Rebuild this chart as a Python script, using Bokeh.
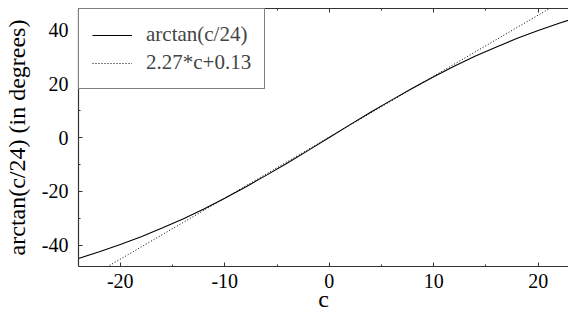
from bokeh.plotting import figure
from bokeh.models import Range1d, FixedTicker, LinearAxis, Legend, LegendItem
from bokeh.embed import file_html
from bokeh.resources import INLINE

# arctan(c/24) in degrees
c_vals = [-24, -22, -20, -18, -16, -14, -12, -10, -8, -6, -4, -2, 0,
          2, 4, 6, 8, 10, 12, 14, 16, 18, 20, 22, 24]
atan_deg = [-45.0, -42.5, -39.8, -36.9, -33.7, -30.3, -26.6, -22.6, -18.4, -14.0, -9.5, -4.8, 0.0,
            4.8, 9.5, 14.0, 18.4, 22.6, 26.6, 30.3, 33.7, 36.9, 39.8, 42.5, 45.0]
# linear fit 2.27*c+0.13 at its end points
fit_c = [-24, 24]
fit_v = [-54.35, 54.61]

x_ticks = [-20, -10, 0, 10, 20]
x_tick_labels = ["-20", "-10", "0", "10", "20"]
x_minor = [-15, -5, 5, 15]
y_ticks = [-40, -20, 0, 20, 40]
y_tick_labels = ["-40", "-20", "0", "20", "40"]
y_minor = [-30, -10, 10, 30]

FONT = "Liberation Serif"

p = figure(width=568, height=317, output_backend="svg", toolbar_location=None,
           x_range=Range1d(-24, 22.9), y_range=Range1d(-48, 48),
           min_border_left=73, min_border_right=0, min_border_top=8, min_border_bottom=51)
p.outline_line_color = None
p.xgrid.visible = False
p.ygrid.visible = False
p.background_fill_color = "white"
p.border_fill_color = "white"

r1 = p.line(c_vals, atan_deg, line_color="black", line_width=1.1)
r2 = p.line(fit_c, fit_v, line_color="black", line_width=1.0, line_dash="1 2")

def style(ax):
    ax.axis_line_color = "#333333"
    ax.axis_line_width = 1.2
    ax.major_tick_line_color = "#333333"
    ax.minor_tick_line_color = "#333333"
    ax.major_tick_in = 4
    ax.major_tick_out = 0
    ax.minor_tick_in = 2
    ax.minor_tick_out = 0
    ax.major_label_text_font = FONT
    ax.major_label_text_font_size = "20px"
    ax.major_label_text_color = "black"
    ax.axis_label_text_font = FONT
    ax.axis_label_text_font_size = "24px"
    ax.axis_label_text_font_style = "normal"
    ax.axis_label_text_color = "black"

xa = p.xaxis[0]
xa.ticker = FixedTicker(ticks=x_ticks, minor_ticks=x_minor)
xa.major_label_overrides = dict(zip(x_ticks, x_tick_labels))
xa.major_label_standoff = 7
xa.axis_label = "c"
xa.axis_label_standoff = -5
style(xa)

ya = p.yaxis[0]
ya.ticker = FixedTicker(ticks=y_ticks, minor_ticks=y_minor)
ya.major_label_overrides = dict(zip(y_ticks, y_tick_labels))
ya.major_label_standoff = 10
ya.axis_label = "arctan(c/24) (in degrees)"
ya.axis_label_standoff = 9
style(ya)

top = LinearAxis(ticker=FixedTicker(ticks=x_ticks, minor_ticks=x_minor))
style(top)
top.major_label_overrides = {t: "" for t in x_ticks}
top.major_label_standoff = 0
p.add_layout(top, "above")

legend = Legend(items=[LegendItem(label="arctan(c/24)", renderers=[r1]),
                       LegendItem(label="2.27*c+0.13", renderers=[r2])],
                location="top_left")
legend.margin = 0
legend.padding = 13
legend.spacing = 3
legend.label_height = 24
legend.glyph_height = 24
legend.glyph_width = 40
legend.label_standoff = 14
legend.label_text_font = FONT
legend.label_text_font_size = "21px"
legend.border_line_color = "black"
legend.border_line_width = 1
legend.background_fill_alpha = 1
p.add_layout(legend)

open("out.html", "w").write(file_html(p, INLINE))
